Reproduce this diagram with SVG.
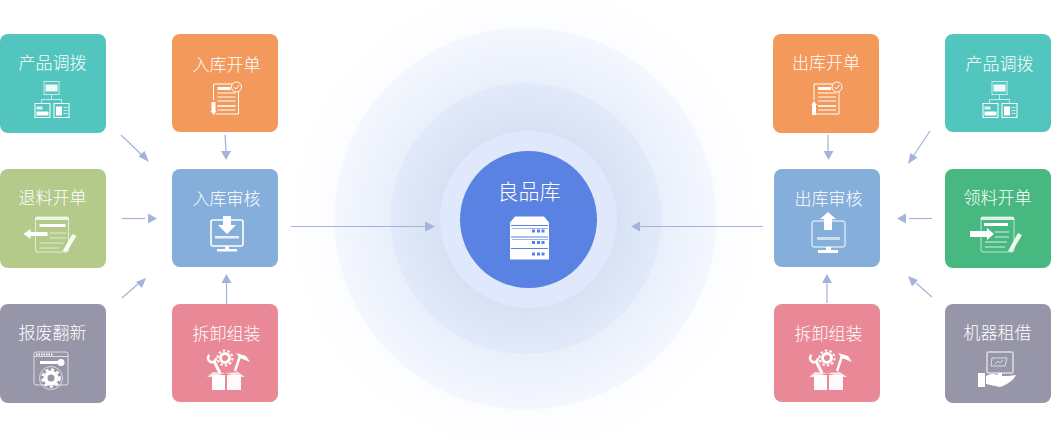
<svg xmlns="http://www.w3.org/2000/svg" width="1051" height="439" viewBox="0 0 1051 439">
<style>
text{font-family:"Noto Sans CJK SC","Noto Sans",sans-serif;font-weight:300;fill:#fff;text-anchor:middle;font-size:17px}
.c{fill:none;stroke:#a3b3da;stroke-width:1.2}
.a{fill:#a3b3da}
.s{fill:none;stroke:#fff;stroke-width:1}
.s2{fill:none;stroke:#fff;stroke-width:1.6}
.f{fill:#fff}
.h{fill:none;stroke:#fff;stroke-width:1;opacity:.65}
</style>
<defs>
<radialGradient id="g0"><stop offset="0.75" stop-color="#fbfcff"/><stop offset="1" stop-color="#ffffff"/></radialGradient>
<radialGradient id="g1"><stop offset="0.7" stop-color="#e9effb"/><stop offset="1" stop-color="#f4f7fe"/></radialGradient>
<radialGradient id="g2"><stop offset="0.65" stop-color="#d6e2f4"/><stop offset="1" stop-color="#e2eafa"/></radialGradient>
<g id="tree">
<rect x="0" y="0" width="15" height="13" class="h"/><rect x="1.500" y="3" width="12" height="7" class="f" opacity=".9"/>
<path d="M7.500 13v5M-2.500 22v-4h20v4" class="h"/>
<rect x="-9" y="22" width="15" height="14" class="s"/><rect x="-7.500" y="25" width="6" height="3" class="f" opacity=".8"/><rect x="-7.500" y="30" width="12" height="4" class="f"/>
<rect x="10" y="22" width="15" height="14" class="s"/><rect x="12" y="25" width="6" height="9" class="f"/><path d="M19.500 26h4M19.500 29h4M19.500 32h4" class="h"/>
</g>
<g id="doc">
<path d="M0 16V0h25v30H2" class="s"/><rect x="4" y="3" width="13" height="3" class="f"/>
<path d="M4 9h18M4 13h18M4 17h18" class="s"/><path d="M4 22h18" class="s2"/><path d="M4 26h18" class="s"/>
<circle cx="23" cy="3" r="5" fill="#f3995b" stroke="#fff"/><path d="M20.500 3l2 2 3-4" class="s"/>
</g>
<g id="box">
<circle cx="19" cy="-8" r="4.500" fill="none" stroke="#fff" stroke-width="3"/><circle cx="19" cy="-8" r="7.500" fill="none" stroke="#fff" stroke-width="2" stroke-dasharray="2.500 2.200"/>
<path d="M14 7L8-5" fill="none" stroke="#fff" stroke-width="3"/><path d="M3.500-11A4 4 0 1 0 10-8" fill="none" stroke="#fff" stroke-width="2.500"/>
<path d="M29 5l5-15" stroke="#fff" stroke-width="2.500"/><path d="M30-13l10 3 4 6-10-4z" class="f"/>
<path d="M1 11l6-5 12 1 13-1 7 5-7 0-13-4-12 4z" class="f" opacity=".75"/>
<rect x="6" y="9" width="13" height="15" class="f"/><rect x="21" y="9" width="14" height="15" class="f" opacity=".95"/>
</g>
<g id="form">
<rect x="0" y="0" width="33" height="35" rx="2" class="h"/><rect x="0" y="0" width="33" height="3" class="f" opacity=".8"/>
</g>
</defs>

<g id="rings">
<circle cx="525.500" cy="218.500" r="240" fill="url(#g0)"/>
<circle cx="525.500" cy="218.500" r="191" fill="url(#g1)"/>
<circle cx="526" cy="218.500" r="135.500" fill="url(#g2)"/>
<circle cx="528.500" cy="219.500" r="88.500" fill="#e0e9fc"/>
</g>

<g id="connectors">
<path class="c" d="M121 135L143 156"/><path class="a" d="M149 162L138.500 156.500L144.500 151z"/>
<path class="c" d="M225 135L226 151"/><path class="a" d="M226 160L221 151H231z"/>
<path class="c" d="M122 218.500H145"/><path class="a" d="M157 218.500L148 213.500V223.500z"/>
<path class="c" d="M122 298L138 284"/><path class="a" d="M146 278L142 288L136 282z"/>
<path class="c" d="M226.500 304V283"/><path class="a" d="M226.500 274L231.500 283H221.500z"/>
<path class="c" d="M291 226.500H426"/><path class="a" d="M435 226.500L425 221.500V231.500z"/>
<path class="c" d="M763 226.500H640"/><path class="a" d="M631 226.500L640 221.500V231.500z"/>
<path class="c" d="M828 135V151"/><path class="a" d="M828.500 160L823.500 151H833.500z"/>
<path class="c" d="M930 131L914 155"/><path class="a" d="M908 164L910.500 153L917.500 157.500z"/>
<path class="c" d="M932 218.500H909"/><path class="a" d="M897 218.500L906 213.500V223.500z"/>
<path class="c" d="M932 297L916 283"/><path class="a" d="M908 276L918 280L912 286.500z"/>
<path class="c" d="M827 303V283"/><path class="a" d="M827 274L832 283H822z"/>
</g>

<g id="n1"><rect x="0" y="34" width="106" height="99" rx="8" fill="#53c5bf"/><text x="52.500" y="69">产品调拨</text><use href="#tree" x="44" y="81.500"/></g>
<g id="n2"><rect x="0" y="169" width="106" height="99" rx="8" fill="#b3ca8b"/><text x="52.500" y="204">退料开单</text>
<g transform="translate(35.500 217)"><use href="#form"/><rect x="4" y="7" width="26" height="3" class="f"/><path d="M14 16h17M14 21h17M4 26h24M4 31h20" class="h"/><path d="M-12 17l7-5v3h17v4H-5v3z" class="f"/><path d="M27 34l10-17 4 2-10 16z" class="f" opacity=".9"/></g></g>
<g id="n3"><rect x="0" y="304" width="106" height="99" rx="8" fill="#9796a9"/><text x="52.500" y="339">报废翻新</text>
<g transform="translate(34 352)"><rect x="0" y="0" width="34" height="33" rx="2" class="h"/><path d="M2 2.500h17" stroke="#fff" stroke-width="2" stroke-dasharray="1.500 1"/><path d="M0 4.500h34" class="h"/><path d="M6 10.500h18" stroke="#fff" stroke-width="3"/><circle cx="27" cy="10.500" r="3.500" class="f"/><circle cx="17" cy="26" r="5.500" fill="none" stroke="#fff" stroke-width="4"/><circle cx="17" cy="26" r="8.500" fill="none" stroke="#fff" stroke-width="2.500" stroke-dasharray="3 2.700"/><circle cx="17" cy="26" r="11.500" class="h" stroke-width=".7"/></g></g>

<g id="n4"><rect x="172" y="34" width="106" height="98" rx="8" fill="#f3995b"/><text x="226.500" y="71">入库开单</text><use href="#doc" x="213.500" y="84"/><path d="M213.500 102v10" stroke="#fff" stroke-width="4"/><path d="M210.500 111h6l-3 4z" class="f"/></g>
<g id="n5"><rect x="172" y="169" width="106" height="98" rx="8" fill="#86aeda"/><text x="226.500" y="205">入库审核</text>
<g transform="translate(210 219)"><rect x="1" y="1" width="32" height="26" rx="2" class="s2"/><path d="M13-3h8v9h5L17 15 8 6h5z" class="f"/><rect x="5" y="17" width="24" height="2.500" class="f" opacity=".8"/><rect x="15" y="27" width="4" height="4" class="f"/><rect x="7" y="30" width="20" height="2.500" class="f"/></g></g>
<g id="n6"><rect x="172" y="304" width="106" height="98" rx="8" fill="#e98897"/><text x="226.500" y="340">拆卸组装</text><use href="#box" x="206" y="366"/></g>

<g id="n7"><circle cx="528.500" cy="219.500" r="68.500" fill="#5a82e2"/><text x="529" y="199" style="font-size:21px">良品库</text>
<g transform="translate(510 216.500)"><path d="M0 6l5-6h29l5 6v37H0z" class="f"/><path d="M1 9h37M1 20.500h37M1 32h37" stroke="#5a82e2" stroke-width="1.200"/><path d="M2 12h36M2 23h36" stroke="#9db4ed" stroke-width="1"/><g fill="#5a82e2"><rect x="22" y="13" width="3" height="3"/><rect x="27" y="13" width="3" height="3"/><rect x="31.500" y="13" width="3" height="3"/><rect x="22" y="24.500" width="3" height="3"/><rect x="27" y="24.500" width="3" height="3"/><rect x="31.500" y="24.500" width="3" height="3"/><rect x="22" y="36" width="3" height="3"/><rect x="27" y="36" width="3" height="3"/><rect x="31.500" y="36" width="3" height="3"/></g></g></g>

<g id="n8"><rect x="773" y="34" width="106" height="99" rx="8" fill="#f3995b"/><text x="826" y="69">出库开单</text><use href="#doc" x="814" y="84"/><path d="M814 104v11" stroke="#fff" stroke-width="4"/><path d="M811 105h6l-3-4z" class="f"/></g>
<g id="n9"><rect x="774" y="169" width="106" height="98" rx="8" fill="#86aeda"/><text x="828.500" y="205">出库审核</text>
<g transform="translate(811 220)"><rect x="1" y="1" width="33" height="26" rx="2" class="s"/><path d="M13 10V-1H9L17-8 25-1h-4V10z" class="f"/><rect x="6" y="17" width="23" height="3" class="f" opacity=".6"/><rect x="15" y="27" width="5" height="4" class="f"/><rect x="7" y="30" width="20" height="3" class="f"/></g></g>
<g id="n10"><rect x="774" y="304" width="106" height="98" rx="8" fill="#e98897"/><text x="828.500" y="340">拆卸组装</text><use href="#box" x="808" y="366"/></g>

<g id="n11"><rect x="945" y="34" width="106" height="98" rx="8" fill="#53c5bf"/><text x="999.500" y="70">产品调拨</text><use href="#tree" x="992" y="81.500"/></g>
<g id="n12"><rect x="945" y="169" width="106" height="99" rx="8" fill="#47b880"/><text x="997.500" y="204">领料开单</text>
<g transform="translate(981 217)"><use href="#form"/><rect x="3" y="6" width="24" height="3" class="f"/><path d="M14 15h14M14 20h14M4 25h22M4 30h20" class="s" opacity=".8"/><path d="M-11 14H6v-3l7 6-7 6v-3H-11z" class="f"/><path d="M27 34l10-18 4 2-10 17z" class="f" opacity=".9"/></g></g>
<g id="n13"><rect x="945" y="304" width="106" height="99" rx="8" fill="#9796a9"/><text x="997.500" y="339">机器租借</text>
<g transform="translate(978 352)"><rect x="9" y="0" width="26" height="21" rx="1" class="s"/><path d="M14 6h15l-2 8H13z" class="h"/><path d="M17 12l3-3 2 2 3-3" class="h"/><rect x="20" y="21" width="4" height="3" class="f"/><rect x="16" y="24" width="12" height="2" class="f"/><rect x="0" y="21" width="7" height="14" class="f"/><path d="M8 24c6-3 10-2 14 0h8l8-1c-3 6-10 10-16 12l-14-3z" class="f"/></g></g>
</svg>
